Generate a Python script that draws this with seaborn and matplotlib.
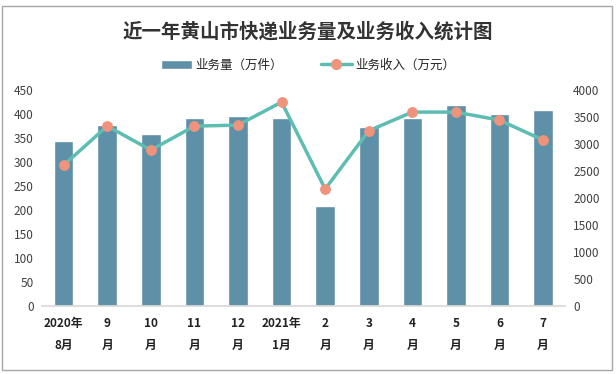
import numpy as np
import pandas as pd
import seaborn as sns
import matplotlib.pyplot as plt
from matplotlib.lines import Line2D
from matplotlib.patches import Patch

months = ["2020年\n8月", "9\n月", "10\n月", "11\n月", "12\n月", "2021年\n1月",
          "2\n月", "3\n月", "4\n月", "5\n月", "6\n月", "7\n月"]
volume = [343, 378, 358, 391, 397, 391, 208, 374, 391, 420, 401, 409]
revenue = [2611, 3333, 2889, 3333, 3352, 3778, 2167, 3247, 3593, 3593, 3444, 3074]

sns.set_theme(style="white")
plt.rcParams['font.family'] = ['Noto Sans CJK SC', 'DejaVu Sans']

df = pd.DataFrame({"月份": months, "业务量": volume, "业务收入": revenue, "pos": range(len(months))})

fig = plt.figure(figsize=(6.16, 3.74), dpi=100)
ax = fig.add_axes([0.068, 0.182, 0.849, 0.577])
ax2 = ax.twinx()

bar_color = "#5E90A8"
line_color = "#5DBDB2"
dot_color = "#F0937C"

sns.barplot(data=df, x="pos", y="业务量", color=bar_color, width=0.45,
            saturation=1, ax=ax)
sns.lineplot(data=df, x="pos", y="业务收入", color=line_color, linewidth=2.5,
             marker="o", markersize=7, markerfacecolor=dot_color,
             markeredgecolor=dot_color, ax=ax2)

ax.set_ylim(0, 450)
ax.set_yticks(np.arange(0, 451, 50))
ax2.set_ylim(0, 4000)
ax2.set_yticks(np.arange(0, 4001, 500))
ax.set_xlim(-0.5, len(months) - 0.5)
ax.set_xticks(range(len(months)))
ax.set_xticklabels(months, fontweight="bold", fontsize=8.5, linespacing=1.9)
ax.set_xlabel("")
ax.set_ylabel("")
ax2.set_ylabel("")

for a in (ax, ax2):
    for s in a.spines.values():
        s.set_visible(False)
    a.tick_params(axis="y", labelsize=8.5, colors="#404040", length=0, pad=6)
    a.grid(False)
ax.spines["bottom"].set_visible(True)
ax.spines["bottom"].set_color("#D9D9D9")
ax.tick_params(axis="x", length=0, pad=8, colors="#222222")

handles = [Patch(facecolor=bar_color, label="业务量（万件）"),
           Line2D([0], [0], color=line_color, lw=2.5, marker="o", markersize=7,
                  markerfacecolor=dot_color, markeredgecolor=dot_color,
                  label="业务收入（万元）")]
fig.legend(handles=handles, loc="center", bbox_to_anchor=(0.5, 0.826), ncol=2,
           frameon=False, fontsize=9, columnspacing=3, handlelength=2.5,
           handletextpad=0.3)

fig.text(0.5, 0.915, "近一年黄山市快递业务量及业务收入统计图", ha="center", va="center",
         fontsize=14, fontweight="bold", color="#333333")

fig.patches.append(plt.Rectangle((0.004, 0.01), 0.99, 0.975, transform=fig.transFigure,
                                 fill=False, edgecolor="#A6A6A6", lw=1))

fig.savefig("out.png", dpi=100)
